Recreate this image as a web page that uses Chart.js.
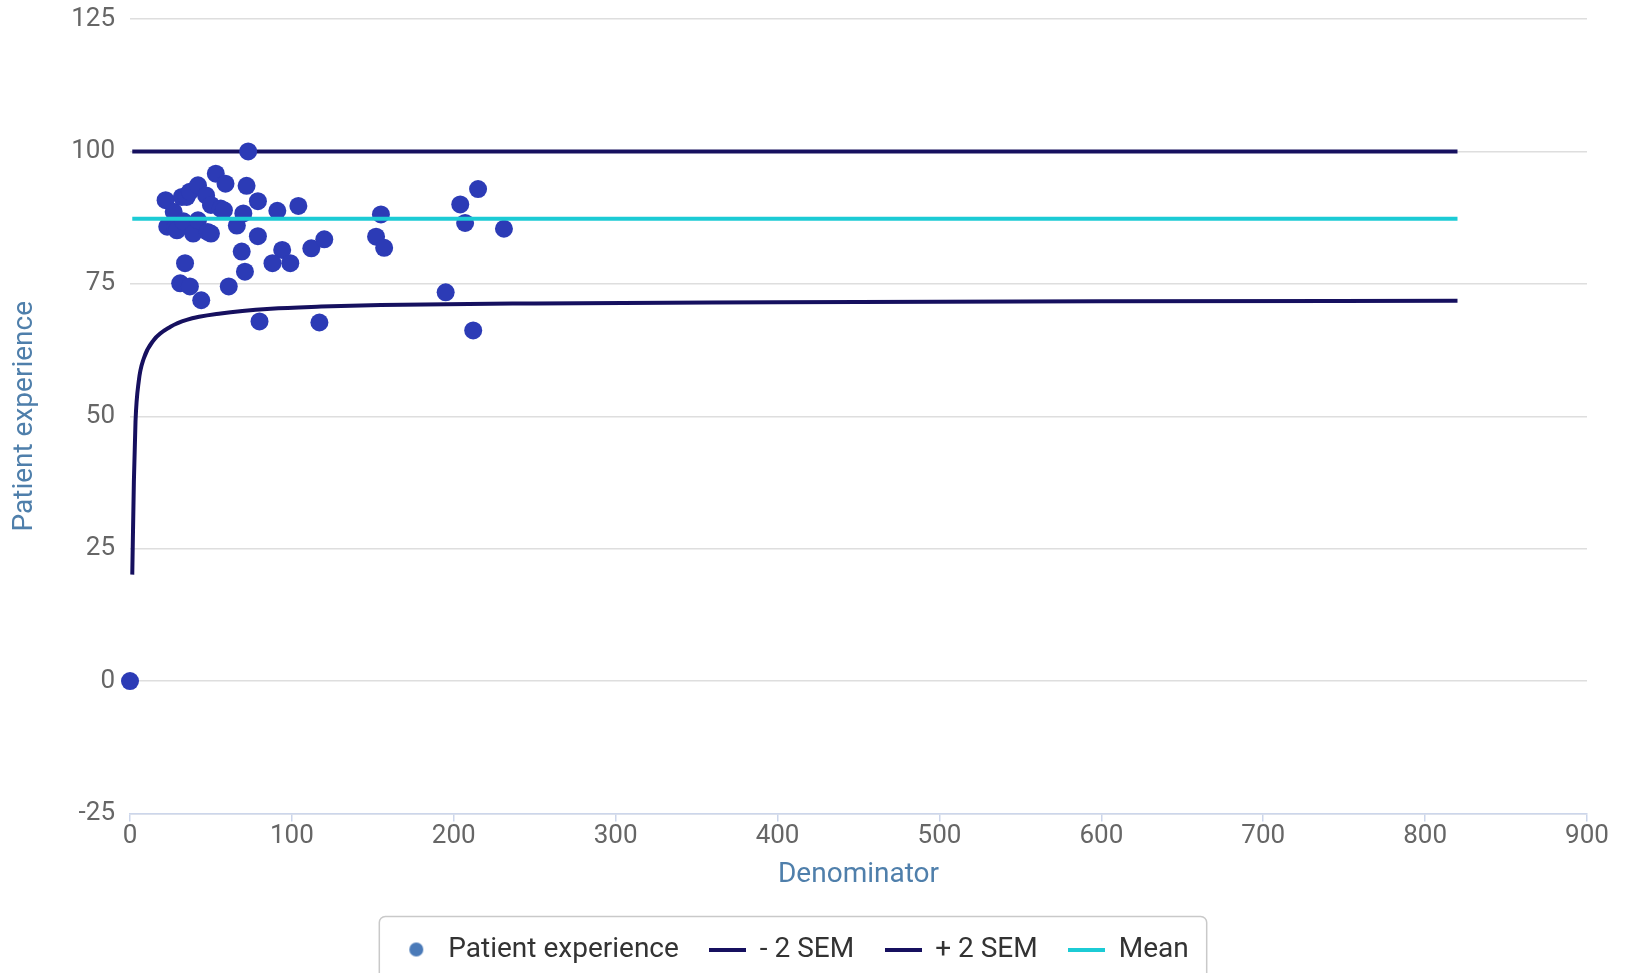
<!DOCTYPE html>
<html><head><meta charset="utf-8">
<script src="https://cdn.jsdelivr.net/npm/chart.js@4.4.0/dist/chart.umd.min.js"></script>
<style>html,body{margin:0;padding:0;background:#fff;overflow:hidden}
#wrap{position:relative;width:1625px;height:1000px}</style></head>
<body><div id="wrap"><canvas id="c" width="1625" height="1000"></canvas></div>
<script>
// Scatter: denominator (x) and patient experience score (y)
const scatterX = [0, 22, 23, 27, 28, 29, 32, 33, 35, 37, 39, 42, 42, 47, 48, 50, 50, 53, 56, 58, 59, 66, 70, 72, 73, 79, 79, 91, 104,
                  69, 71, 61, 34, 31, 37, 44, 94, 88, 99, 112, 120, 80, 117, 155, 152, 157, 204, 215, 207, 231, 195, 212];
const scatterY = [0, 90.8, 85.8, 88.6, 85.6, 85.1, 91.4, 86.8, 91.4, 92.4, 84.5, 93.6, 87.0, 91.7, 84.8, 89.9, 84.5, 95.8, 89.2, 88.9, 93.9, 86.0, 88.3, 93.5, 100, 90.6, 84.0, 88.8, 89.7,
                  81.1, 77.3, 74.5, 78.9, 75.1, 74.5, 71.9, 81.4, 78.9, 78.9, 81.7, 83.4, 67.9, 67.7, 88.1, 83.9, 81.8, 90.0, 92.9, 86.5, 85.4, 73.4, 66.2];
// Lower control limit (-2 SEM)
const lowerX = [1.4, 2.4, 3.4, 5.4, 8.5, 14.7, 25, 35, 56, 87, 118, 155, 250, 400, 600, 820];
const lowerY = [20.1, 37.7, 49, 56.6, 60.9, 64.4, 66.9, 68.2, 69.4, 70.3, 70.7, 71.0, 71.3, 71.5, 71.7, 71.8];
// Upper control limit (+2 SEM) and mean
const limitX = [1.4, 820];
const upperY = [100, 100];
const meanY = [87.3, 87.3];
// Axis ranges
const xRange = [0, 900, 100];
const yRange = [-25, 125, 25];

const seriesNames = ['Patient experience', '- 2 SEM', '+ 2 SEM', 'Mean'];
const pts = (xs, ys) => xs.map((x, i) => ({x: x, y: ys[i]}));

const POINT = '#2c3bb6', NAVY = '#16105f', CYAN = '#1ccbd5', LEGEND_DOT = '#4a7ab8';
function markerCircle(color, r) {
  const c = document.createElement('canvas'); c.width = c.height = 2 * r + 2;
  const g = c.getContext('2d'); g.fillStyle = color; g.beginPath(); g.arc(r + 1, r + 1, r, 0, Math.PI * 2); g.fill(); return c;
}
function markerLine(color, w, h) {
  const c = document.createElement('canvas'); c.width = w; c.height = h;
  const g = c.getContext('2d'); g.fillStyle = color; g.fillRect(0, 0, w, h); return c;
}
const markers = [markerCircle(LEGEND_DOT, 7), markerLine(NAVY, 37, 4), markerLine(NAVY, 37, 4), markerLine(CYAN, 37, 4)];

const legendBox = {
  id: 'legendBox',
  afterDraw(chart) {
    const hb = chart.legend.legendHitBoxes; if (!hb || !hb.length) return;
    const l = Math.min(...hb.map(b => b.left)), r = Math.max(...hb.map(b => b.left + b.width));
    const t = Math.min(...hb.map(b => b.top)), bt = Math.max(...hb.map(b => b.top + b.height));
    const ctx = chart.ctx; ctx.save(); ctx.strokeStyle = '#c9c9c9'; ctx.lineWidth = 1.5;
    ctx.beginPath(); ctx.roundRect(l - 19, t - 19, (r - l) + 37, (bt - t) + 38, 6); ctx.stroke(); ctx.restore();
  }
};

const FONT = 'Roboto';
new Chart(document.getElementById('c'), {
  type: 'scatter',
  data: {
    datasets: [
      {label: seriesNames[0], data: pts(scatterX, scatterY), backgroundColor: POINT, borderWidth: 0, pointRadius: 9, pointHoverRadius: 9, order: 1, clip: false},
      {label: seriesNames[1], type: 'line', data: pts(lowerX, lowerY), borderColor: NAVY, borderWidth: 4, pointRadius: 0, cubicInterpolationMode: 'monotone', fill: false, order: 2},
      {label: seriesNames[2], type: 'line', data: pts(limitX, upperY), borderColor: NAVY, borderWidth: 4, pointRadius: 0, fill: false, order: 3},
      {label: seriesNames[3], type: 'line', data: pts(limitX, meanY), borderColor: CYAN, borderWidth: 4, pointRadius: 0, fill: false, order: 0}
    ]
  },
  options: {
    responsive: false, animation: false, devicePixelRatio: 1,
    layout: {padding: {top: 19, right: 38, bottom: 26.5, left: 0}},
    plugins: {
      tooltip: {enabled: false},
      legend: {
        position: 'bottom',
        labels: {
          usePointStyle: true, pointStyleWidth: 36, padding: 31, color: '#333',
          font: {family: FONT, size: 28},
          sort: (a, b) => a.datasetIndex - b.datasetIndex,
          generateLabels: (chart) => chart.data.datasets.map((d, i) => ({
            text: d.label, datasetIndex: i, pointStyle: markers[i], fillStyle: 'transparent', strokeStyle: 'transparent', lineWidth: 0, hidden: false, fontColor: '#333'
          }))
        }
      }
    },
    scales: {
      x: {
        type: 'linear', min: xRange[0], max: xRange[1],
        ticks: {stepSize: xRange[2], color: '#666', font: {family: FONT, size: 26, lineHeight: 1}, padding: 2},
        grid: {drawOnChartArea: false, drawTicks: true, tickLength: 8, color: '#ccd6eb', lineWidth: 1.5},
        border: {display: true, color: '#ccd6eb', width: 1.5},
        title: {display: true, text: 'Denominator', color: '#4f7fab', font: {family: FONT, size: 28}, padding: {top: 4, bottom: 13}},
        afterFit: (s) => { s.height = 91; }
      },
      y: {
        type: 'linear', min: yRange[0], max: yRange[1],
        ticks: {stepSize: yRange[2], color: '#666', font: {family: FONT, size: 26}, padding: 15},
        grid: {drawTicks: false, color: '#dedede', lineWidth: 1.5},
        border: {display: false},
        title: {display: true, text: 'Patient experience', color: '#4f7fab', font: {family: FONT, size: 28}, padding: {top: 8, bottom: 4}},
        afterFit: (s) => { s.width = 130; s.paddingTop = 0; s.paddingBottom = 0; }
      }
    }
  },
  plugins: [legendBox]
});
</script></body></html>
